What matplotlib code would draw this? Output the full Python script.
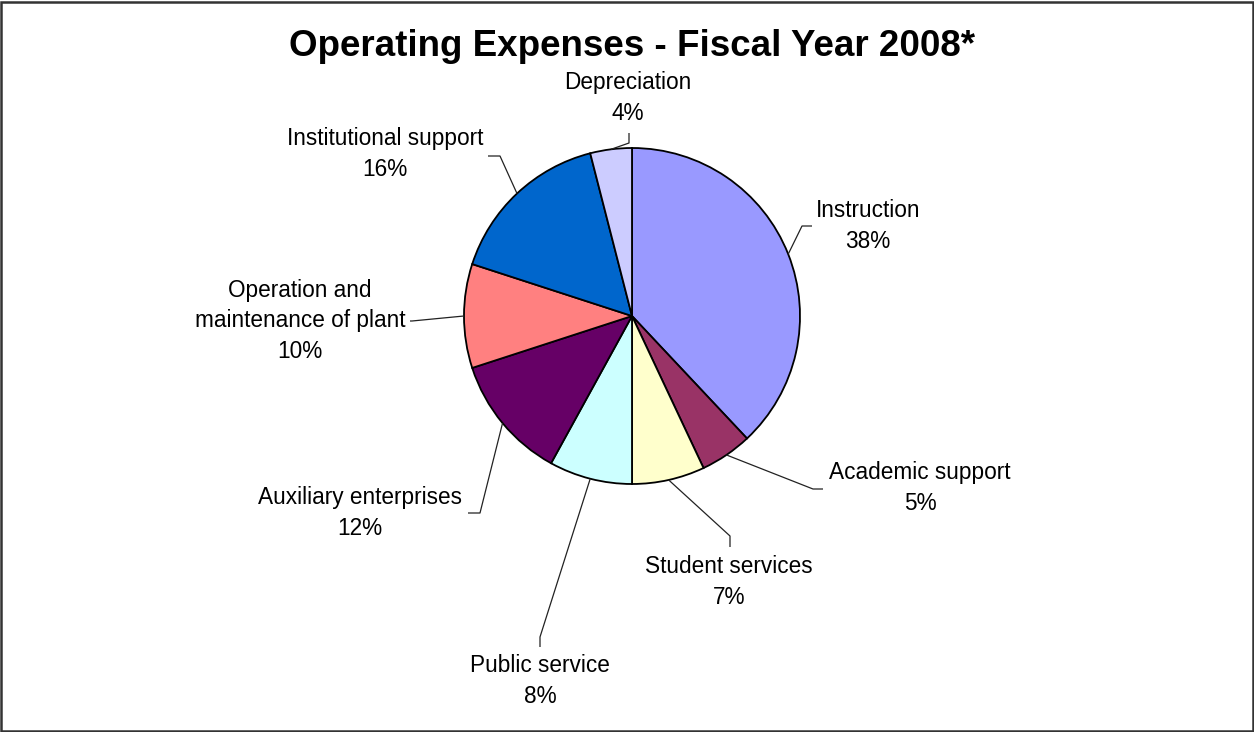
import numpy as np
import matplotlib.pyplot as plt
from matplotlib.patches import Rectangle

plt.rcParams['font.family'] = ['Liberation Sans', 'DejaVu Sans']

W, H = 1254, 732

categories = ['Instruction', 'Academic support', 'Student services', 'Public service',
              'Auxiliary enterprises', 'Operation and\nmaintenance of plant',
              'Institutional support', 'Depreciation']
values = [38, 5, 7, 8, 12, 10, 16, 4]
colors = ['#9999FF', '#993366', '#FFFFCC', '#CCFFFF', '#660066', '#FF8080', '#0066CC', '#CCCCFF']

# label centre, leader knee and leader end (pixels from top-left)
label_pos = [(868, 226), (920, 488), (729, 582), (540, 681),
             (360, 513), (300, 321), (385, 154), (628, 98)]
knees = [(802, 226), (813, 489), (730, 536), (540, 637),
         (480, 513), (412, 321), (500, 156), (629, 143)]
ends = [(812, 226), (823, 489), (730, 547), (540, 647),
        (468, 513), (410, 321), (488, 156), (629, 133)]

cx, cy, r = 632, 316, 168


def fy(y):
    return H - y


fig = plt.figure(figsize=(W / 100, H / 100), dpi=100)
ax = fig.add_axes([0, 0, 1, 1])

wedges, _ = ax.pie(values, colors=colors, startangle=90, counterclock=False,
                   center=(cx, fy(cy)), radius=r,
                   wedgeprops=dict(edgecolor='black', linewidth=1.3))

for w, name, v, lp, kn, en in zip(wedges, categories, values, label_pos, knees, ends):
    mid = np.deg2rad((w.theta1 + w.theta2) / 2)
    ax0 = cx + r * np.cos(mid)
    ay0 = fy(cy) + r * np.sin(mid)
    ax.plot([ax0, kn[0], en[0]], [ay0, fy(kn[1]), fy(en[1])],
            color='#222222', lw=0.9, solid_capstyle='butt')
    ax.text(lp[0], fy(lp[1]), f'{name}\n{v}%', ha='center', va='center',
            fontsize=16.3, linespacing=1.42, color='black')

ax.text(632, fy(46), 'Operating Expenses - Fiscal Year 2008*', ha='center', va='center',
        fontsize=26.5, fontweight='bold')

ax.add_patch(Rectangle((1, 1), W - 2.5, H - 2.5, fill=False, edgecolor='#333333', lw=1.8))

ax.set_xlim(0, W)
ax.set_ylim(0, H)
ax.set_aspect('equal')
ax.axis('off')

fig.savefig('out.png', dpi=100)
